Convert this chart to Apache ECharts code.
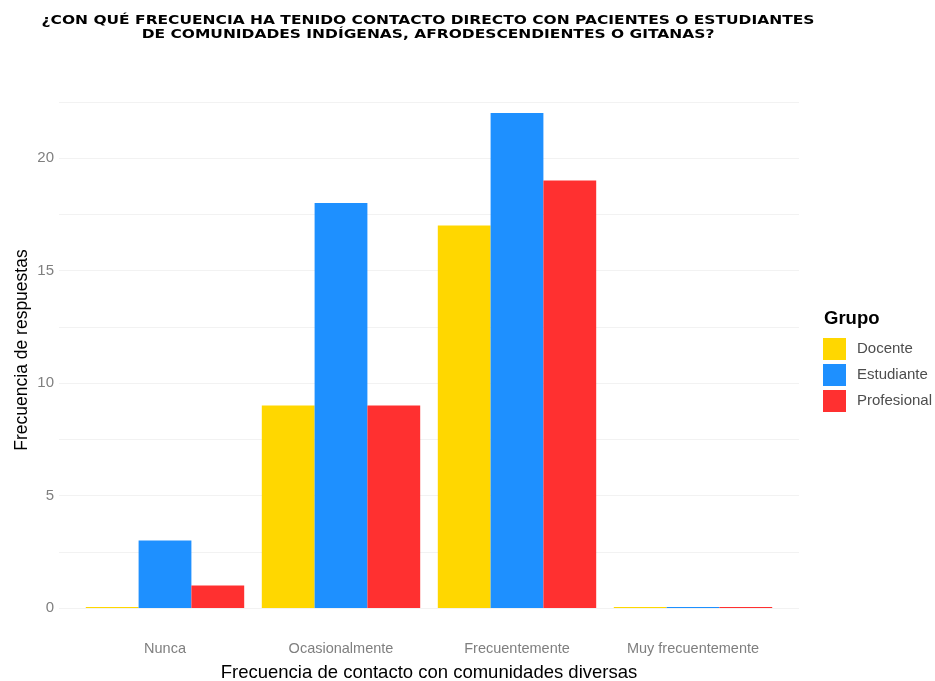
<!DOCTYPE html>
<html>
<head>
<meta charset="utf-8">
<script src="https://cdn.jsdelivr.net/npm/echarts@6/dist/echarts.min.js"></script>
<style>html,body{margin:0;padding:0;background:#fff;}#c{width:935px;height:681px;}</style>
</head>
<body>
<div id="c"></div>
<script>
const categories = ['Nunca', 'Ocasionalmente', 'Frecuentemente', 'Muy frecuentemente'];
const docente = [0, 9, 17, 0];
const estudiante = [3, 18, 22, 0];
const profesional = [1, 9, 19, 0];
const groupNames = ['Docente', 'Estudiante', 'Profesional'];
const groupColors = ['#FFD700', '#1E90FF', '#FF3030'];
const yTickLabels = ['0', '5', '10', '15', '20'];
const chartTitle = '¿CON QUÉ FRECUENCIA HA TENIDO CONTACTO DIRECTO CON PACIENTES O ESTUDIANTES\nDE COMUNIDADES INDÍGENAS, AFRODESCENDIENTES O GITANAS?';

const font = 'Liberation Sans, Arial, sans-serif';
const titleFont = 'DejaVu Sans, sans-serif';
const chart = echarts.init(document.getElementById('c'), null, {renderer: 'canvas'});
const seriesData = [docente, estudiante, profesional];

chart.setOption({
  backgroundColor: '#ffffff',
  animation: false,
  textStyle: {fontFamily: font},
  title: [
    {
      text: 'Grupo', left: 819, top: 304,
      textStyle: {fontFamily: font, fontSize: 18.5, fontWeight: 'bold', color: '#000'}
    }
  ],
  legend: {
    orient: 'vertical', left: 818, top: 333,
    itemWidth: 23, itemHeight: 22, itemGap: 4, icon: 'rect',
    data: groupNames,
    textStyle: {fontFamily: font, fontSize: 15, color: '#4d4d4d', padding: [0, 0, 0, 6]}
  },
  grid: [
    {left: 59, right: 136, top: 101.75, bottom: 73, outerBoundsMode: 'none', containLabel: false},
    {left: 77, right: 154, top: 101.75, bottom: 73, outerBoundsMode: 'none', containLabel: false}
  ],
  graphic: [
    {
      type: 'text', x: 428, y: 14, scaleX: 1.19, scaleY: 1,
      style: {
        text: chartTitle, fill: '#000', font: 'bold 13px ' + titleFont,
        textAlign: 'center', textVerticalAlign: 'top', lineHeight: 14
      }
    },
    {
      type: 'text', x: 22, y: 350, rotation: Math.PI / 2,
      style: {
        text: 'Frecuencia de respuestas', fill: '#000', font: '17.5px ' + font,
        textAlign: 'center', textVerticalAlign: 'middle'
      }
    }
  ],
  xAxis: [
    {gridIndex: 0, type: 'value', min: 0, max: 1, show: false},
    {
      gridIndex: 1, type: 'category', data: categories,
      axisLine: {show: false}, axisTick: {show: false}, splitLine: {show: false},
      axisLabel: {fontFamily: font, fontSize: 14.5, color: '#7f7f7f', margin: 33},
      name: 'Frecuencia de contacto con comunidades diversas',
      nameLocation: 'middle', nameGap: 55,
      nameTextStyle: {fontFamily: font, fontSize: 18.5, color: '#000'}
    }
  ],
  yAxis: [
    {
      gridIndex: 0, type: 'value', min: 0, max: 22.5, interval: 2.5,
      axisLine: {show: false}, axisTick: {show: false},
      splitLine: {show: true, lineStyle: {color: '#f2f2f2', width: 1}},
      axisLabel: {
        fontFamily: font, fontSize: 15, color: '#7f7f7f', margin: 5,
        formatter: function (v) { const s = String(v); return yTickLabels.indexOf(s) >= 0 ? s : ''; }
      }
    },
    {gridIndex: 1, type: 'value', min: 0, max: 22.5, show: false, splitLine: {show: false}}
  ],
  series: groupNames.map(function (name, i) {
    return {
      name: name, type: 'bar', xAxisIndex: 1, yAxisIndex: 1,
      data: seriesData[i], barWidth: '30%', barGap: '0%', barMinHeight: 1,
      itemStyle: {color: groupColors[i]}
    };
  })
});
</script>
</body>
</html>
